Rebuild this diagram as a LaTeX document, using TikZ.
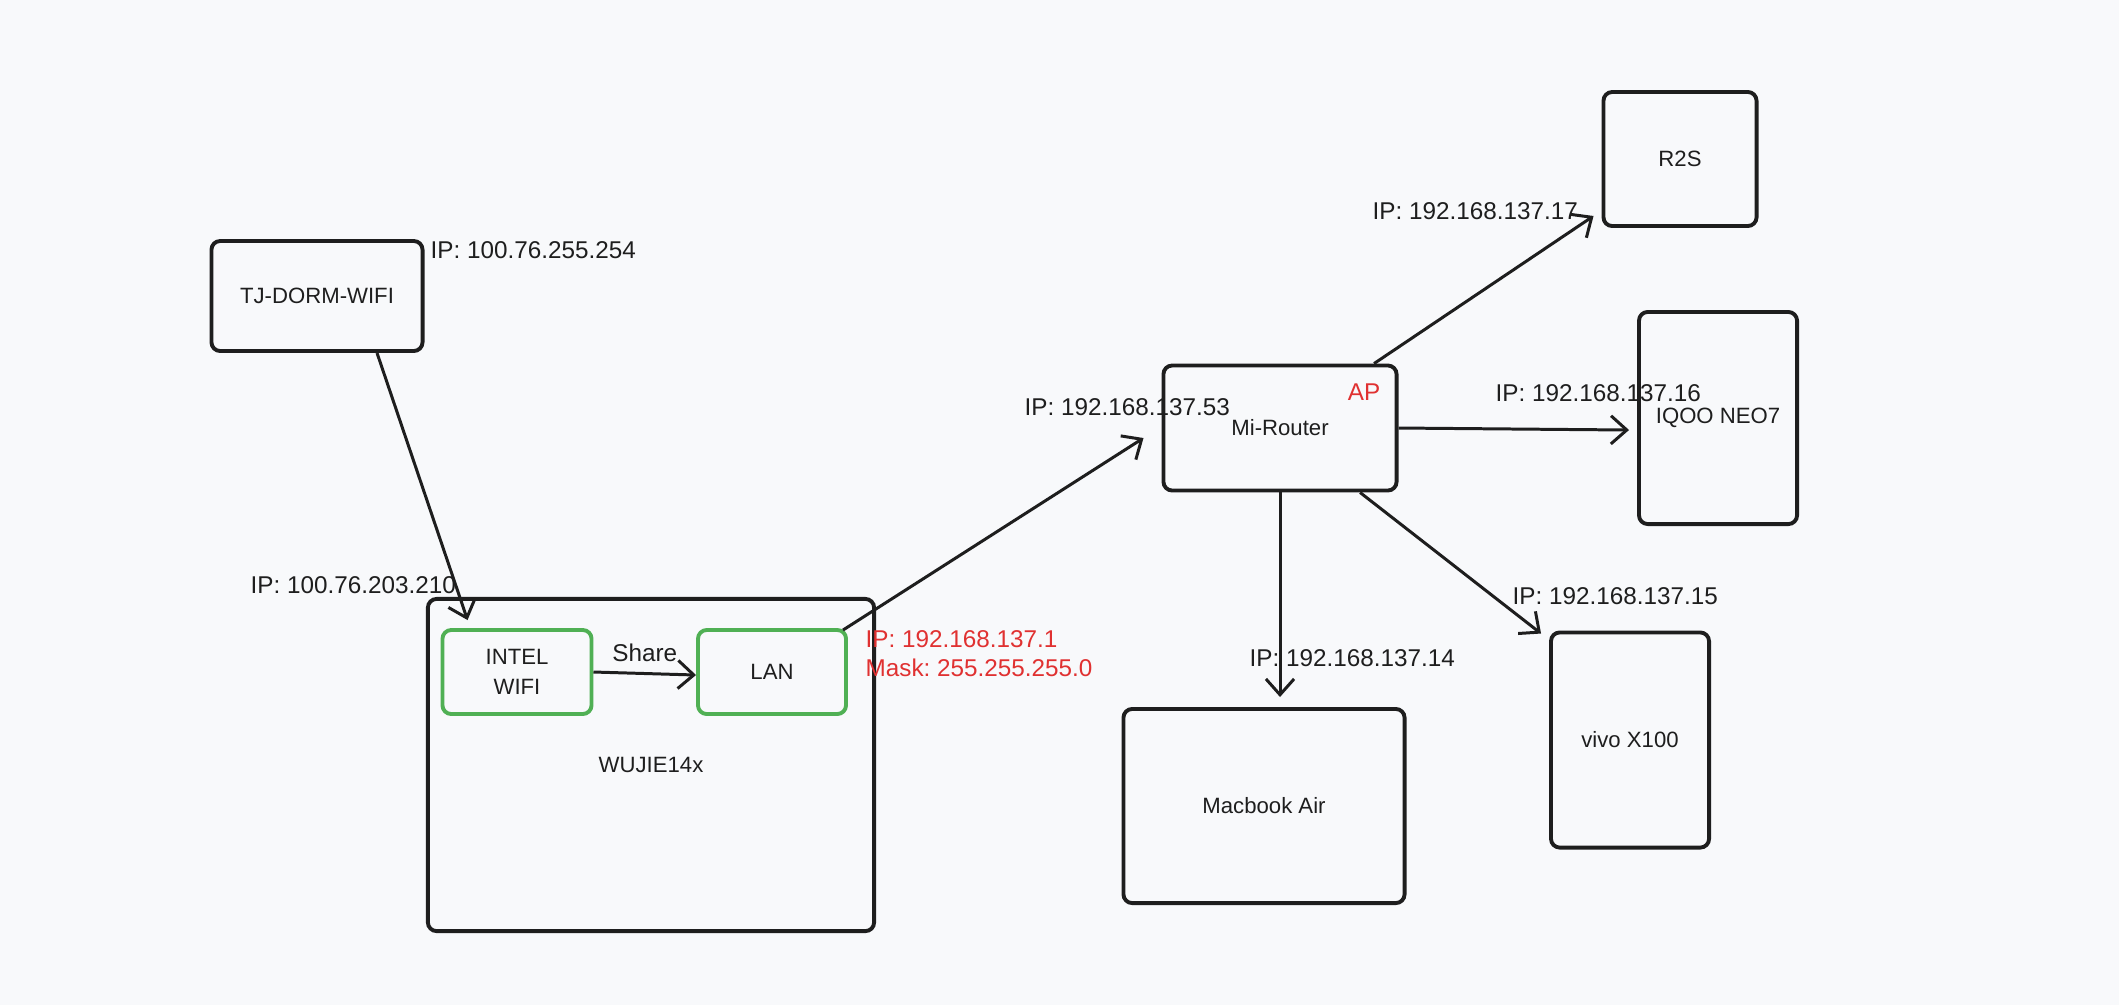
\documentclass[tikz,border=0pt]{standalone}
\usepackage{fontspec}
\setmainfont{Liberation Sans}
\usetikzlibrary{arrows.meta,positioning,calc}
\definecolor{bgcol}{RGB}{248,249,251}
\definecolor{inkcol}{RGB}{30,30,30}
\definecolor{nicgreen}{RGB}{80,176,84}
\definecolor{ipred}{RGB}{224,49,49}
\frenchspacing
\tikzstyle{arrow} = [line width=0.85pt,draw=inkcol,-{Straight Barb[length=4.5pt,width=8pt]}]
\tikzstyle{devbox} = [rectangle, rounded corners=2.5pt, line width=1.1pt, draw=inkcol, text=inkcol, font=\fontsize{6.3}{7.6}\selectfont, align=center, inner sep=0pt]
\tikzstyle{nicbox} = [devbox, draw=nicgreen]
\tikzstyle{iplabel} = [anchor=west, inner sep=0pt, text=inkcol, font=\fontsize{6.9}{8.2}\selectfont]

\begin{document}
\begin{tikzpicture}[x=0.01cm,y=-0.01cm]
		\fill[bgcol] (0,0) rectangle (2119,1005);
		\useasboundingbox (0,0) rectangle (2119,1005);
		% devices
		\node[devbox,minimum width=2.11cm,minimum height=1.10cm](n_dorm) at (317,296){TJ-DORM-WIFI};
		\node[devbox,minimum width=4.46cm,minimum height=3.32cm](n_host) at (651,765){WUJIE14x};
		\node[nicbox,minimum width=1.49cm,minimum height=0.84cm](n_wifi) at (517,672){INTEL\\[1pt]WIFI};
		\node[nicbox,minimum width=1.48cm,minimum height=0.84cm](n_lan) at (772,672){LAN};
		\node[devbox,minimum width=2.33cm,minimum height=1.25cm](n_router) at (1280,428){Mi-Router};
		\node[devbox,minimum width=1.53cm,minimum height=1.34cm](n_r2s) at (1680,159){R2S};
		\node[devbox,minimum width=1.58cm,minimum height=2.12cm](n_iqoo) at (1718,418){IQOO NEO7};
		\node[devbox,minimum width=2.81cm,minimum height=1.94cm](n_mac) at (1264,806){Macbook Air};
		\node[devbox,minimum width=1.58cm,minimum height=2.15cm](n_vivo) at (1630,740){vivo X100};
		% labels
		\node[iplabel](l_dorm) at (430,250){IP: 100.76.255.254};
		\node[iplabel](l_wifi) at (250,585){IP: 100.76.203.210};
		\node[iplabel,text=ipred,align=left](l_lan) at (865,654){IP: 192.168.137.1\\Mask: 255.255.255.0};
		\node[iplabel](l_router) at (1024,407){IP: 192.168.137.53};
		\node[iplabel,anchor=center,text=ipred](l_ap) at (1364,392){AP};
		\node[iplabel](l_r2s) at (1372,211){IP: 192.168.137.17};
		\node[iplabel](l_iqoo) at (1495,393){IP: 192.168.137.16};
		\node[iplabel](l_mac) at (1249,658){IP: 192.168.137.14};
		\node[iplabel](l_vivo) at (1512,596){IP: 192.168.137.15};
		% links
		\draw[arrow] ([xshift=0.60cm]n_dorm.south) -- ([xshift=0.27cm,yshift=0.08cm]n_wifi.north west);
		\draw[arrow] (n_wifi.east) -- node[iplabel,anchor=south,yshift=0.1cm](l_share){Share} ([yshift=-0.03cm]n_lan.west);
		\draw[arrow] ([xshift=-0.05cm,yshift=-0.02cm]n_lan.north east) -- ([xshift=-0.18cm,yshift=-0.10cm]n_router.west);
		\draw[arrow] ([xshift=0.94cm]n_router.north) -- ([xshift=-0.08cm,yshift=0.12cm]n_r2s.south west);
		\draw[arrow] (n_router.east) -- ([xshift=-0.08cm,yshift=-0.12cm]n_iqoo.west);
		\draw[arrow] (n_router.south) -- ([yshift=0.10cm]n_router.south |- n_mac.north);
		\draw[arrow] ([xshift=0.80cm]n_router.south) -- ([xshift=-0.08cm,yshift=-0.03cm]n_vivo.north west);
\end{tikzpicture}
\end{document}
